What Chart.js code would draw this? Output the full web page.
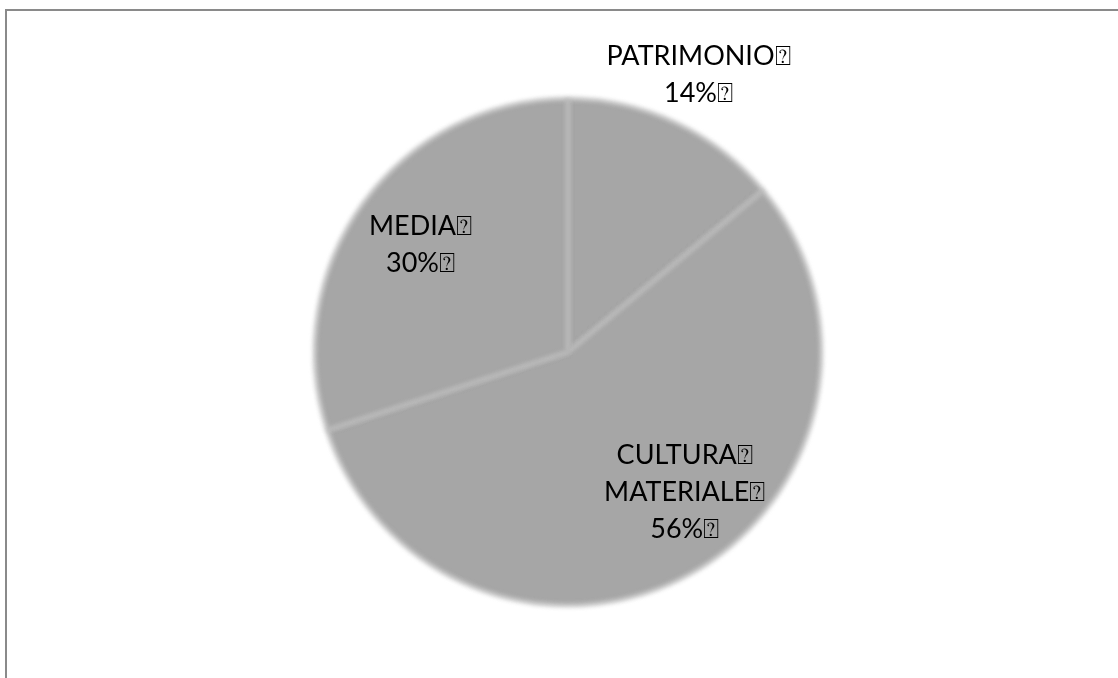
<!DOCTYPE html>
<html>
<head>
<meta charset="utf-8">
<script src="https://cdn.jsdelivr.net/npm/chart.js@4/dist/chart.umd.min.js"></script>
<style>
  html, body { margin: 0; padding: 0; background: #fff; overflow: hidden; }
  #wrap { position: relative; width: 1118px; height: 678px; }
  #frame {
    position: absolute; left: 5px; top: 9px; width: 1200px; height: 800px;
    border-left: 2px solid #8a8a8a; border-top: 2px solid #8a8a8a;
  }
  canvas { position: absolute; left: 0; top: 0; }
</style>
</head>
<body>
<div id="wrap">
  <div id="frame"></div>
  <canvas id="chart" width="1118" height="678"></canvas>
</div>
<script>
// Share of items by category (percent)
const categories = ['PATRIMONIO', 'CULTURA MATERIALE', 'MEDIA'];
const shares = [14, 56, 30];
// Label lines as printed on the chart (each line ends with an unrendered symbol)
const labelLines = [
  ['PATRIMONIO\u2370', '14%\u2370'],
  ['CULTURA\u2370', 'MATERIALE\u2370', '56%\u2370'],
  ['MEDIA\u2370', '30%\u2370']
];

// Label placement: distance from centre as a fraction of the radius, angle tweak in degrees
const labelPlacement = [
  { dist: 1.21, turn: 0 },
  { dist: 0.72, turn: -11 },
  { dist: 0.72, turn: 0 }
];

const sliceFill = '#a6a6a6';

const softEdges = {
  id: 'softEdges',
  beforeDatasetsDraw(chart) {
    chart.ctx.save();
    chart.ctx.filter = 'blur(2.4px)';
  },
  afterDatasetsDraw(chart) {
    chart.ctx.restore();
  }
};

const sliceLabels = {
  id: 'sliceLabels',
  afterDraw(chart) {
    const ctx = chart.ctx;
    const meta = chart.getDatasetMeta(0);
    ctx.save();
    ctx.font = '27px Lato, "DejaVu Sans", sans-serif';
    ctx.fillStyle = '#000';
    ctx.textAlign = 'center';
    ctx.textBaseline = 'middle';
    const lineGap = 37;
    meta.data.forEach((arc, i) => {
      const p = arc.getProps(['x', 'y', 'startAngle', 'endAngle', 'outerRadius'], true);
      const mid = (p.startAngle + p.endAngle) / 2 + labelPlacement[i].turn * Math.PI / 180;
      const d = p.outerRadius * labelPlacement[i].dist;
      const cx = p.x + Math.cos(mid) * d;
      const cy = p.y + Math.sin(mid) * d;
      const lines = labelLines[i];
      const top = cy - (lines.length - 1) * lineGap / 2;
      lines.forEach((t, k) => ctx.fillText(t, cx, top + k * lineGap));
    });
    ctx.restore();
  }
};

new Chart(document.getElementById('chart'), {
  type: 'pie',
  data: {
    labels: categories,
    datasets: [{
      data: shares,
      backgroundColor: categories.map(() => sliceFill),
      borderColor: '#b0b0b0',
      borderWidth: 1.5
    }]
  },
  options: {
    responsive: false,
    animation: false,
    layout: { padding: { top: 98, bottom: 72, left: 18, right: 0 } },
    plugins: {
      legend: { display: false },
      tooltip: { enabled: false },
      title: { display: false }
    }
  },
  plugins: [softEdges, sliceLabels]
});
</script>
</body>
</html>
